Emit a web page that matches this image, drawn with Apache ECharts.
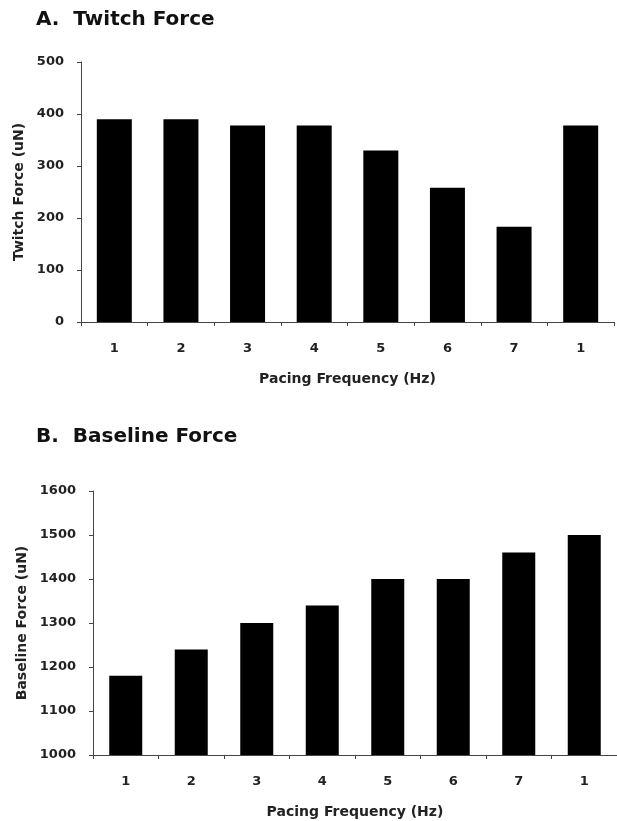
<!DOCTYPE html>
<html>
<head>
<meta charset="utf-8">
<script src="https://cdn.jsdelivr.net/npm/echarts@6/dist/echarts.min.js"></script>
<style>
html,body{margin:0;padding:0;background:#fff;}
#chart{width:617px;height:821px;}
</style>
</head>
<body>
<div id="chart"></div>
<script>
var categories = ['1', '2', '3', '4', '5', '6', '7', '1'];
var twitchForce = [390, 390, 378, 378, 330, 258, 183, 378];
var baselineForce = [1180, 1240, 1300, 1340, 1400, 1400, 1460, 1500];
var twitchTicks = {min: 0, max: 500, interval: 100};
var baselineTicks = {min: 1000, max: 1600, interval: 100};

var FONT = '"DejaVu Sans", sans-serif';
var TXT = '#222';
var AX = '#444';

function xAxisDef(gridIndex) {
  return {
    type: 'category', gridIndex: gridIndex, data: categories,
    name: 'Pacing Frequency (Hz)', nameLocation: 'middle', nameGap: 50,
    nameTextStyle: {fontFamily: FONT, fontWeight: 'bold', fontSize: 14, color: TXT},
    axisLine: {lineStyle: {color: AX, width: 1}},
    axisTick: {show: true, length: 4, inside: false, lineStyle: {color: AX}},
    axisLabel: {fontFamily: FONT, fontWeight: 'bold', fontSize: 13, color: TXT, margin: 20},
    splitLine: {show: false}
  };
}
function yAxisDef(gridIndex, name, ticks, gap) {
  return {
    type: 'value', gridIndex: gridIndex, min: ticks.min, max: ticks.max, interval: ticks.interval,
    name: name, nameLocation: 'middle', nameGap: gap, nameRotate: 90,
    nameTextStyle: {fontFamily: FONT, fontWeight: 'bold', fontSize: 14, color: TXT},
    axisLine: {show: true, lineStyle: {color: AX, width: 1}},
    axisTick: {show: true, length: 4, lineStyle: {color: AX}},
    axisLabel: {fontFamily: FONT, fontWeight: 'bold', fontSize: 13, color: TXT, margin: 17,
      formatter: function (v) { return String(v); }},
    splitLine: {show: false}
  };
}

var chart = echarts.init(document.getElementById('chart'), null, {renderer: 'canvas'});
chart.setOption({
  animation: false,
  backgroundColor: '#fff',
  title: [
    {text: 'A.  Twitch Force', left: 36, top: 10, padding: 0,
     textStyle: {fontFamily: FONT, fontWeight: 'bold', fontSize: 20, color: '#111'}},
    {text: 'B.  Baseline Force', left: 36, top: 427, padding: 0,
     textStyle: {fontFamily: FONT, fontWeight: 'bold', fontSize: 20, color: '#111'}}
  ],
  grid: [
    {left: 81, top: 62, width: 533, height: 260, containLabel: false},
    {left: 93, top: 491, width: 528, height: 264, containLabel: false}
  ],
  xAxis: [xAxisDef(0), xAxisDef(1)],
  yAxis: [
    yAxisDef(0, 'Twitch Force (uN)', twitchTicks, 54),
    yAxisDef(1, 'Baseline Force (uN)', baselineTicks, 60)
  ],
  series: [
    {type: 'bar', xAxisIndex: 0, yAxisIndex: 0, data: twitchForce, barWidth: 35,
     itemStyle: {color: '#000'}},
    {type: 'bar', xAxisIndex: 1, yAxisIndex: 1, data: baselineForce, barWidth: 33,
     itemStyle: {color: '#000'}}
  ]
});
</script>
</body>
</html>
